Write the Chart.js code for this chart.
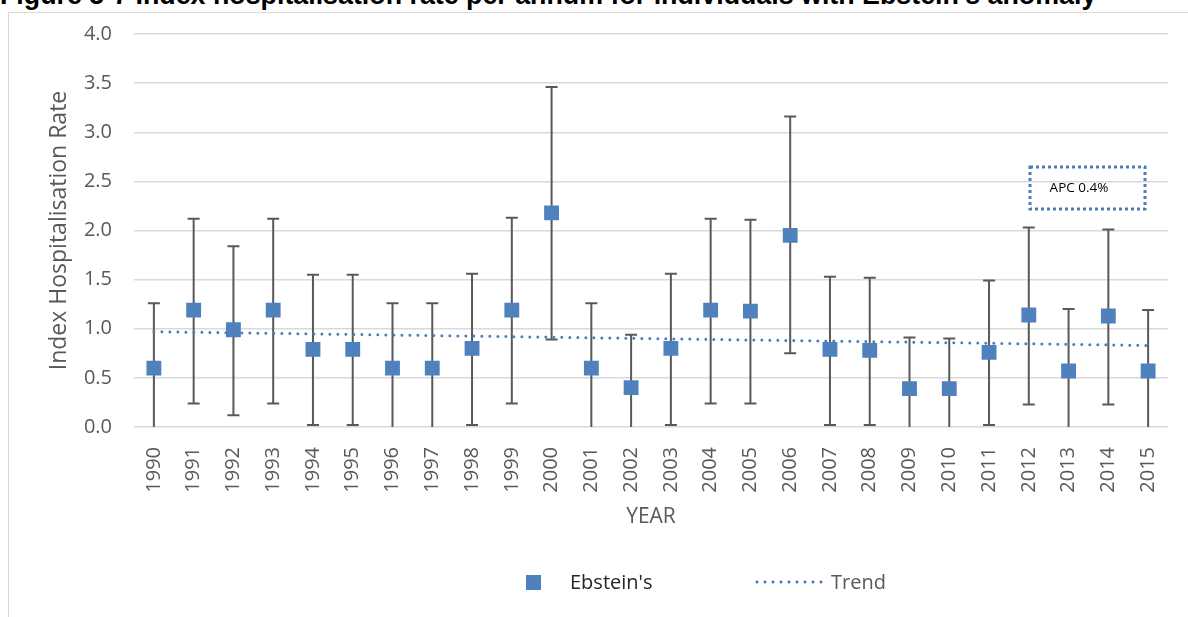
<!DOCTYPE html>
<html>
<head>
<meta charset="utf-8">
<script src="https://cdn.jsdelivr.net/npm/chart.js"></script>
<style>
  html, body { margin: 0; padding: 0; background: #fff; overflow: hidden; }
  #wrap { position: relative; width: 1188px; height: 617px; }
  #title {
    position: absolute; left: 0; top: -18px; white-space: nowrap;
    font: bold 26.8px/27px "Liberation Sans", Arial, sans-serif; color: #000;
  }
  #frame {
    position: absolute; left: 8px; top: 12px; width: 1300px; height: 700px;
    border-left: 1.5px solid #d9d9d9; border-top: 1.5px solid #d9d9d9;
  }
  #chart { position: absolute; left: 0; top: 0; }
  .legend { position: absolute; font: 20px "Open Sans", sans-serif; line-height: 24px; }
  .swatch { position: absolute; left: 526px; top: 575px; width: 15px; height: 15px; background: #4f81bd; }
  .dots {
    position: absolute; left: 753px; top: 580px; width: 72px; height: 4px;
    background: radial-gradient(circle, #4a7ebb 1.4px, transparent 1.7px) 0 0 / 8px 4px repeat-x;
  }
</style>
</head>
<body>
<div id="wrap">
  <div id="title">Figure 5-7 Index hospitalisation rate per annum for individuals with Ebstein's anomaly</div>
  <div id="frame"></div>
  <canvas id="chart" width="1188" height="617"></canvas>
  <div class="swatch"></div>
  <div class="legend" style="left:570px; top:570px; color:#262626">Ebstein's</div>
  <div class="dots"></div>
  <div class="legend" style="left:831px; top:570px; color:#595959">Trend</div>
</div>
<script>
// data
const years = ['1990', '1991', '1992', '1993', '1994', '1995', '1996', '1997', '1998', '1999',
  '2000', '2001', '2002', '2003', '2004', '2005', '2006', '2007', '2008', '2009',
  '2010', '2011', '2012', '2013', '2014', '2015']
const rate = [0.60, 1.19, 0.99, 1.19, 0.79, 0.79, 0.60, 0.60, 0.80, 1.19,
  2.18, 0.60, 0.40, 0.80, 1.19, 1.18, 1.95, 0.79, 0.78, 0.39,
  0.39, 0.76, 1.14, 0.57, 1.13, 0.57]
const upper = [1.26, 2.12, 1.84, 2.12, 1.55, 1.55, 1.26, 1.26, 1.56, 2.13,
  3.46, 1.26, 0.94, 1.56, 2.12, 2.11, 3.16, 1.53, 1.52, 0.91,
  0.90, 1.49, 2.03, 1.20, 2.01, 1.19]
const lower = [0, 0.24, 0.12, 0.24, 0.02, 0.02, 0, 0, 0.02, 0.24,
  0.89, 0, 0, 0.02, 0.24, 0.24, 0.75, 0.02, 0.02, 0,
  0, 0.02, 0.23, 0, 0.23, 0]
// trend end points (1990 and 2015), the line between them is straight
const trendStart = 0.97
const trendEnd = 0.83
const trend = years.map((y, i) => i === 0 ? trendStart : (i === years.length - 1 ? trendEnd : null))
const yTicks = [0, 0.5, 1, 1.5, 2, 2.5, 3, 3.5, 4]
const apcLabel = 'APC 0.4%'

const errorBars = {
  id: 'errorBars',
  beforeDatasetsDraw(chart) {
    const { ctx, scales: { x, y } } = chart
    ctx.save()
    ctx.strokeStyle = '#595959'
    ctx.lineWidth = 2
    years.forEach((yr, i) => {
      const px = x.getPixelForValue(i)
      const top = y.getPixelForValue(upper[i])
      const bot = y.getPixelForValue(lower[i])
      ctx.beginPath()
      ctx.moveTo(px, top)
      ctx.lineTo(px, bot)
      ctx.moveTo(px - 6, top)
      ctx.lineTo(px + 6, top)
      if (lower[i] > 0) {
        ctx.moveTo(px - 6, bot)
        ctx.lineTo(px + 6, bot)
      }
      ctx.stroke()
    })
    ctx.restore()
  },
  afterDraw(chart) {
    // APC text box
    const { ctx } = chart
    ctx.save()
    ctx.strokeStyle = '#4a7ebb'
    ctx.lineWidth = 3
    ctx.setLineDash([3, 3])
    ctx.strokeRect(1030, 167, 115, 42)
    ctx.setLineDash([])
    ctx.fillStyle = '#000'
    ctx.font = '13.5px "Open Sans", sans-serif'
    ctx.textAlign = 'center'
    ctx.textBaseline = 'middle'
    ctx.fillText(apcLabel, 1079, 188)
    ctx.restore()
  }
}

new Chart(document.getElementById('chart'), {
  type: 'line',
  data: {
    labels: years,
    datasets: [
      {
        label: "Ebstein's",
        data: rate,
        showLine: false,
        pointStyle: 'rect',
        pointRadius: 10.5,
        pointBackgroundColor: '#4f81bd',
        pointBorderWidth: 0,
        order: 0
      },
      {
        label: 'Trend',
        data: trend,
        spanGaps: true,
        borderColor: '#4a7ebb',
        borderWidth: 3,
        borderDash: [0, 8],
        borderCapStyle: 'round',
        pointRadius: 0,
        order: 1
      }
    ]
  },
  options: {
    responsive: false,
    animation: false,
    layout: { padding: { left: 40, right: 20, top: 33, bottom: 80 } },
    plugins: { legend: { display: false }, tooltip: { enabled: false } },
    scales: {
      x: {
        offset: true,
        grid: { display: false },
        border: { display: false },
        ticks: {
          autoSkip: false, minRotation: 90, maxRotation: 90, padding: 12,
          color: '#595959', font: { family: 'Open Sans', size: 20 }
        },
        title: {
          display: true, text: 'YEAR', color: '#595959',
          font: { family: 'Open Sans', size: 21 }, padding: { top: 0, bottom: 7 }
        },
        afterFit: s => { s.height = 110 }
      },
      y: {
        min: 0, max: 4,
        afterBuildTicks: s => { s.ticks = yTicks.map(v => ({ value: v })) },
        grid: { color: '#d9d9d9', lineWidth: 1.5, drawTicks: false },
        border: { display: false },
        ticks: {
          padding: 22, color: '#595959', font: { family: 'Open Sans', size: 20 },
          callback: v => v.toFixed(1)
        },
        title: {
          display: true, text: 'Index Hospitalisation Rate', color: '#595959',
          font: { family: 'Open Sans', size: 23 }, padding: { top: 6, bottom: 0 }
        },
        afterFit: s => { s.width = 94 }
      }
    }
  },
  plugins: [errorBars]
})
</script>
</body>
</html>
